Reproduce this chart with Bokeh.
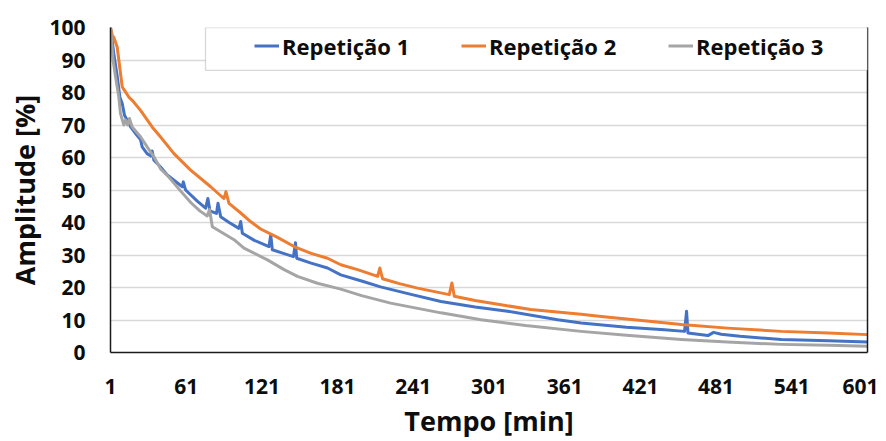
from bokeh.plotting import figure
from bokeh.models import (Range1d, FixedTicker, LinearAxis, Legend, LegendItem,
                          BoxAnnotation)
from bokeh.embed import file_html
from bokeh.resources import INLINE

# ---------------- data ----------------
x_ticks = [1, 61, 121, 181, 241, 301, 361, 421, 481, 541, 601]
y_ticks = [0, 10, 20, 30, 40, 50, 60, 70, 80, 90, 100]
series_names = ["Repetição 1", "Repetição 2", "Repetição 3"]
x_title = "Tempo [min]"
y_title = "Amplitude [%]"

rep1_t = [1, 3.6, 6.3, 8.4, 10.3, 12.1, 14.2, 16.9, 20.8, 24.8, 26.1, 30, 33, 34,
          35.4, 40.7, 46, 57.9, 58.7, 60.5, 70, 76.4, 78.2, 79.8, 85, 86.2, 88.3,
          95, 102.8, 104.2, 105.5, 115, 126.6, 128, 129.3, 138, 146, 147.6, 148.6,
          160, 173, 183.5, 200, 215, 240, 262.9, 290, 315.8, 355.5, 374, 410, 440,
          456, 457.6, 458.7, 474.5, 479, 485, 500, 532.7, 570, 601]
rep1_v = [100, 92, 85, 78.6, 76.6, 73, 71.5, 69.4, 67.4, 65.5, 63.3, 61.2, 60.5, 62,
          59.2, 57.1, 54.6, 51, 52.5, 50, 46.5, 44.4, 47.4, 43.6, 42.8, 45.9, 41.8,
          40, 38.2, 40.3, 36.7, 34.5, 32.6, 36.2, 31.6, 30.5, 29.5, 33.8, 29,
          27.5, 26, 23.9, 22, 20.2, 17.8, 15.7, 14, 12.7, 10.1, 9.1, 7.8, 7,
          6.5, 12.7, 6, 5.2, 6.2, 5.6, 5, 4, 3.6, 3.2]

rep2_t = [1, 2.5, 3.6, 6.3, 7.6, 10.3, 12.9, 15.5, 18.2, 24.8, 34, 40.7, 51.3, 64.5,
          80.4, 89, 91, 92.5, 94.9, 104, 112, 120, 133, 146.5, 160, 173, 183.5,
          196.8, 212.7, 214.5, 216.6, 230, 244.3, 269.5, 271.6, 273.5, 290, 310.5,
          334, 374, 390, 420, 453.4, 490, 532.7, 570, 601]
rep2_v = [100, 97.5, 97, 94, 90, 81.7, 80.2, 78.6, 77.6, 74.5, 69.4, 66.3, 61.2, 56.1,
          51, 48, 47.4, 49.5, 45.9, 43, 40.3, 38, 35.5, 32.6, 30.5, 29, 27,
          25.5, 23.4, 26, 22.7, 21.2, 19.8, 17.8, 21.4, 17.3, 16, 14.7,
          13.2, 11.8, 11.1, 9.9, 8.6, 7.5, 6.5, 6, 5.5]

rep3_t = [1, 3, 5, 7.6, 8.9, 11.6, 12.9, 14.7, 16, 18.2, 24.8, 30, 35.4, 40.7, 46,
          57, 65, 72, 77.7, 79.5, 81.7, 98.9, 106.8, 125.4, 138.6, 149.2, 165,
          183.5, 200, 223, 262.9, 294.7, 330, 374, 410, 453.4, 490, 532.7, 570, 601]
rep3_v = [100, 90, 84.8, 78.6, 73.5, 70, 71.5, 70, 72, 69.4, 66.4, 63.3, 60.2, 56.5, 54.5,
          49.5, 46, 43.5, 42, 44, 38.7, 34.7, 32.1, 28.5, 25.5, 23.4, 21.3,
          19.5, 17.5, 15.2, 12.2, 10.1, 8.3, 6.5, 5.3, 4, 3.2, 2.5, 2.2, 1.9]

colors = ["#4472C4", "#ED7D31", "#A5A5A5"]

FONT = "Open Sans"
TXT = "#0d0d0d"
FRAME_H = 326

p = figure(width=878, height=441, output_backend="svg", toolbar_location=None,
           x_range=Range1d(x_ticks[0], x_ticks[-1]),
           y_range=Range1d(y_ticks[0], y_ticks[-1]),
           min_border_left=110, min_border_right=11, min_border_top=27,
           min_border_bottom=441 - 27 - FRAME_H, outline_line_color=None,
           background_fill_color="white", border_fill_color="white")

# grid
p.xgrid.grid_line_color = None
p.ygrid.grid_line_color = "#D9D9D9"
p.ygrid.grid_line_width = 1.3
p.ygrid.ticker = FixedTicker(ticks=y_ticks)

# axes
for ax in (p.xaxis[0], p.yaxis[0]):
    ax.axis_line_color = "#1a1a1a"
    ax.axis_line_width = 1.5
    ax.major_tick_line_color = None
    ax.minor_tick_line_color = None
    ax.major_tick_out = 0
    ax.major_tick_in = 0
    ax.major_label_text_font = FONT
    ax.major_label_text_font_style = "bold"
    ax.major_label_text_font_size = "21px"
    ax.major_label_text_color = TXT
    ax.axis_label_text_font = FONT
    ax.axis_label_text_font_style = "bold"
    ax.axis_label_text_font_size = "27px"
    ax.axis_label_text_color = TXT

p.xaxis[0].ticker = FixedTicker(ticks=x_ticks)
p.yaxis[0].ticker = FixedTicker(ticks=y_ticks)
p.xaxis[0].axis_label = x_title
p.yaxis[0].axis_label = y_title
p.xaxis[0].major_label_standoff = 26
p.xaxis[0].axis_label_standoff = 5
p.yaxis[0].major_label_standoff = 25
p.yaxis[0].axis_label_standoff = 3

right_ax = LinearAxis(ticker=FixedTicker(ticks=[]), axis_line_color="#1a1a1a",
                      axis_line_width=1.5, major_tick_line_color=None,
                      minor_tick_line_color=None, major_tick_out=0,
                      major_label_standoff=0, axis_label_standoff=0,
                      major_label_text_font_size="0px")
p.add_layout(right_ax, "right")

y_per_px = (y_ticks[-1] - y_ticks[0]) / FRAME_H

# series
renderers = []
for t, v, c in ((rep1_t, rep1_v, colors[0]), (rep2_t, rep2_v, colors[1]),
                (rep3_t, rep3_v, colors[2])):
    renderers.append(p.line(t, v, line_color=c, line_width=3, line_join="round"))

# legend frame (inside plot area, top)
box = BoxAnnotation(left=x_ticks[0] + 95 * (x_ticks[-1] - x_ticks[0]) / 757,
                    right=x_ticks[-1],
                    bottom=y_ticks[-1] - 43 * y_per_px, top=y_ticks[-1],
                    fill_color="white", fill_alpha=1.0,
                    line_color="#7f7f7f", line_width=1.3)
p.add_layout(box)

legend = Legend(items=[LegendItem(label=n, renderers=[r])
                       for n, r in zip(series_names, renderers)],
                orientation="horizontal", location="top_right",
                margin=0, padding=6, spacing=8,
                glyph_width=25, glyph_height=37, label_height=37,
                label_width=171, label_standoff=3,
                border_line_color=None, background_fill_alpha=0,
                label_text_font=FONT, label_text_font_style="bold",
                label_text_font_size="22px", label_text_color=TXT)
p.add_layout(legend, "center")

open("out.html", "w").write(file_html(p, INLINE))
